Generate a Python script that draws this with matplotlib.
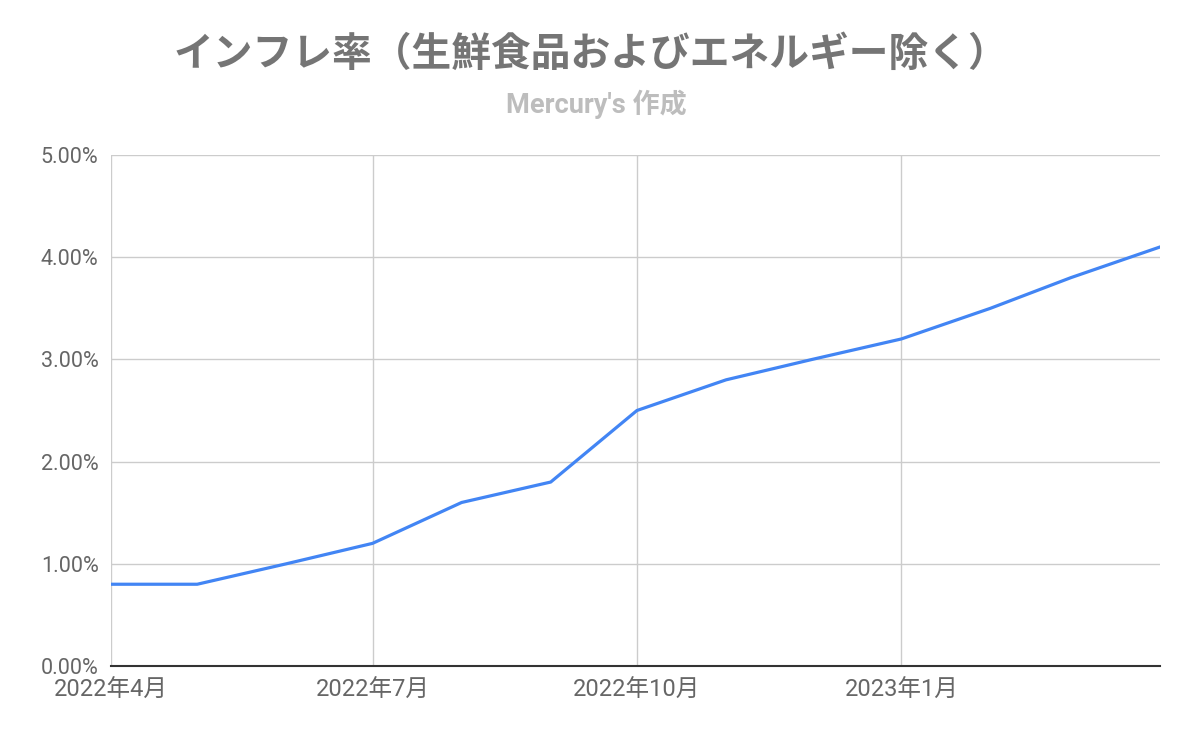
import matplotlib
matplotlib.use("Agg")
import matplotlib.pyplot as plt
import matplotlib.dates as mdates
import pandas as pd

months = ["2022-04", "2022-05", "2022-06", "2022-07", "2022-08", "2022-09",
          "2022-10", "2022-11", "2022-12", "2023-01", "2023-02", "2023-03", "2023-04"]
rates = [0.8, 0.8, 1.0, 1.2, 1.6, 1.8, 2.5, 2.8, 3.0, 3.2, 3.5, 3.8, 4.1]
tick_months = ["2022-04", "2022-07", "2022-10", "2023-01"]
tick_labels = ["2022年4月", "2022年7月", "2022年10月", "2023年1月"]
y_ticks = [0, 1, 2, 3, 4, 5]
title = "インフレ率（生鮮食品およびエネルギー除く）"
subtitle = "Mercury's 作成"

fam = ["Roboto", "Noto Sans CJK JP", "DejaVu Sans"]
plt.rcParams['font.family'] = fam

dates = pd.to_datetime(months)
fig = plt.figure(figsize=(11.96, 7.38), dpi=100)
ax = fig.add_axes([111/1196, 1-666/738, (1160-111)/1196, (666-155)/738])

ax.plot(dates, rates, color="#4285F4", lw=2.3, solid_joinstyle="round", zorder=3)

ax.set_xlim(dates[0], dates[-1])
ax.set_ylim(0, 5)
ax.set_yticks(y_ticks)
ax.set_yticklabels([f"{v:.2f}%" for v in y_ticks], fontsize=15.5, color="#666666")
ax.set_xticks(pd.to_datetime(tick_months))
ax.set_xticklabels(tick_labels, fontsize=17, color="#666666")
ax.tick_params(axis="both", length=0)
ax.tick_params(axis="y", pad=9)
ax.tick_params(axis="x", pad=9)
ax.grid(True, color="#CCCCCC", lw=1)
for s in ["top", "right", "left"]:
    ax.spines[s].set_visible(False)
ax.spines["bottom"].set_color("#333333")
ax.spines["bottom"].set_linewidth(1.5)
ax.spines["bottom"].set_zorder(4)

fig.text(0.494, 1-54/738, title, ha="center", va="center", fontsize=28.6,
         fontweight="bold", color="#757575", family=["Noto Sans CJK JP", "DejaVu Sans"])
fig.text(0.499, 1-104/738, subtitle, ha="center", va="center", fontsize=19.5,
         fontweight="bold", color="#BDBDBD", family=["Roboto", "Noto Sans CJK JP"])

fig.savefig("out.png", dpi=100)
